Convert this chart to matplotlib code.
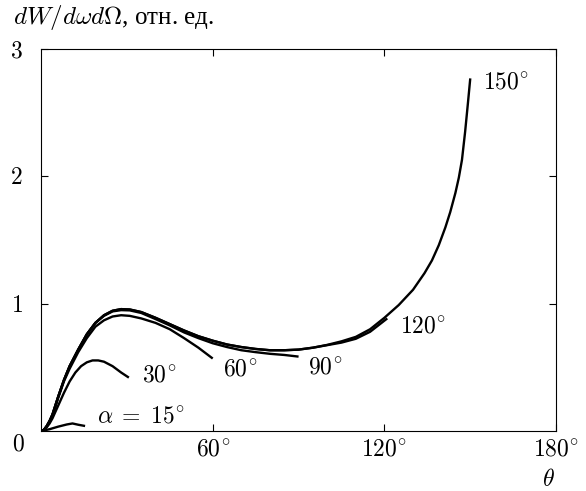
import matplotlib
matplotlib.use("Agg")
import matplotlib.pyplot as plt

plt.rcParams["mathtext.fontset"] = "cm"
plt.rcParams["font.family"] = ["Liberation Serif", "DejaVu Serif"]

# curve data (theta in degrees, intensity in rel. units)
theta_15 = [0, 3, 6, 9, 11, 13, 15.4]
w_15 = [0, 0.015, 0.035, 0.052, 0.06, 0.05, 0.04]

theta_30 = [0, 1, 2, 3, 4, 5, 6, 8, 10, 12, 14, 16, 18, 20, 22, 25, 28, 30.7]
w_30 = [0, 0.008, 0.03, 0.06, 0.10, 0.15, 0.20, 0.30, 0.39, 0.46, 0.51, 0.54, 0.555, 0.555, 0.545, 0.51, 0.46, 0.42]

theta_60 = [0, 1, 2, 3, 4, 5, 6, 8, 10, 13, 16, 19, 22, 25, 28, 31, 35, 40, 45, 50, 55, 60]
w_60 = [0, 0.01, 0.035, 0.075, 0.125, 0.19, 0.26, 0.39, 0.49, 0.62, 0.73, 0.82, 0.87, 0.90, 0.91, 0.905, 0.885, 0.85, 0.80, 0.73, 0.655, 0.57]

theta_90 = [0, 1, 2, 3, 4, 5, 6, 8, 10, 13, 16, 19, 22, 25, 28, 31, 35, 40, 45, 50, 55, 60, 65, 70, 75, 80, 85, 90]
w_90 = [0, 0.01, 0.04, 0.08, 0.13, 0.20, 0.27, 0.40, 0.51, 0.64, 0.76, 0.85, 0.905, 0.94, 0.95, 0.948, 0.928, 0.88, 0.83, 0.775, 0.73, 0.69, 0.66, 0.635, 0.62, 0.607, 0.598, 0.585]

theta_120 = [0, 1, 2, 3, 4, 5, 6, 8, 10, 13, 16, 19, 22, 25, 28, 31, 35, 40, 45, 50, 55, 60, 65, 70, 75, 80, 85, 90, 95, 100, 105, 110, 115, 121]
w_120 = [0, 0.01, 0.04, 0.08, 0.13, 0.20, 0.27, 0.40, 0.51, 0.64, 0.76, 0.85, 0.91, 0.945, 0.958, 0.955, 0.935, 0.89, 0.84, 0.79, 0.745, 0.71, 0.68, 0.66, 0.645, 0.635, 0.635, 0.64, 0.655, 0.675, 0.695, 0.725, 0.78, 0.885]

theta_150 = [0, 1, 2, 3, 4, 5, 6, 8, 10, 13, 16, 19, 22, 25, 28, 31, 35, 40, 45, 50, 55, 60, 65, 70, 75, 80, 85, 90, 95, 100, 105, 110, 115, 120,
             125, 130, 134, 136.6, 139, 141.3, 143, 144.8, 146, 147.1, 148.2, 149.2, 150]
w_150 = [0, 0.01, 0.04, 0.08, 0.13, 0.20, 0.27, 0.40, 0.51, 0.64, 0.76, 0.85, 0.91, 0.945, 0.958, 0.955, 0.935, 0.89, 0.84, 0.79, 0.745, 0.71, 0.68, 0.66, 0.645, 0.635, 0.635, 0.64, 0.655, 0.677, 0.705, 0.74, 0.80, 0.89,
         0.99, 1.11, 1.24, 1.34, 1.46, 1.60, 1.72, 1.87, 1.99, 2.13, 2.35, 2.58, 2.77]

curves = [
    (theta_15, w_15, r"$\alpha\;=\;15^{\!\circ}$", (19.6, 0.07)),
    (theta_30, w_30, r"$30^{\!\circ}$", (35.2, 0.387)),
    (theta_60, w_60, r"$60^{\!\circ}$", (63.6, 0.44)),
    (theta_90, w_90, r"$90^{\!\circ}$", (93.4, 0.456)),
    (theta_120, w_120, r"$120^{\!\circ}$", (125.5, 0.778)),
    (theta_150, w_150, r"$150^{\!\circ}$", (154.5, 2.694)),
]

x_ticks = [60, 120, 180]
x_ticklabels = [r"$60^{\!\circ}$", r"$120^{\!\circ}$", r"$180^{\!\circ}$"]
y_ticks = [1, 2, 3]
y_ticklabels = [r"$1$", r"$2$", r"$3$"]

FS = 17

fig = plt.figure(figsize=(5.86, 4.91), dpi=100)
ax = fig.add_axes([0.070, 0.122, 0.879, 0.778])

for th, w, lab, pos in curves:
    ax.plot(th, w, color="black", lw=1.7, solid_capstyle="butt", solid_joinstyle="round")
    ax.text(pos[0], pos[1], lab, fontsize=FS, ha="left", va="baseline")

ax.set_xlim(0, 180)
ax.set_ylim(0, 3)
ax.set_xticks(x_ticks)
ax.set_xticklabels(x_ticklabels, fontsize=FS)
ax.set_yticks(y_ticks)
ax.set_yticklabels(y_ticklabels, fontsize=FS)
ax.tick_params(direction="in", length=5, width=0.8, top=True, right=True)
ax.tick_params(axis="x", pad=6)
ax.tick_params(axis="y", pad=13)
for sp in ax.spines.values():
    sp.set_linewidth(0.8)

fig.text(18 / 586, 1 - 445 / 491, r"$0$", fontsize=FS, ha="center", va="center")
fig.text(548 / 586, 1 - 486 / 491, r"$\theta$", fontsize=FS, ha="center", va="baseline")
fig.text(13 / 586, 1 - 17 / 491, r"$dW/d\omega d\Omega$, отн. ед.", fontsize=18, ha="left", va="center")

fig.savefig("out.png", dpi=100)
